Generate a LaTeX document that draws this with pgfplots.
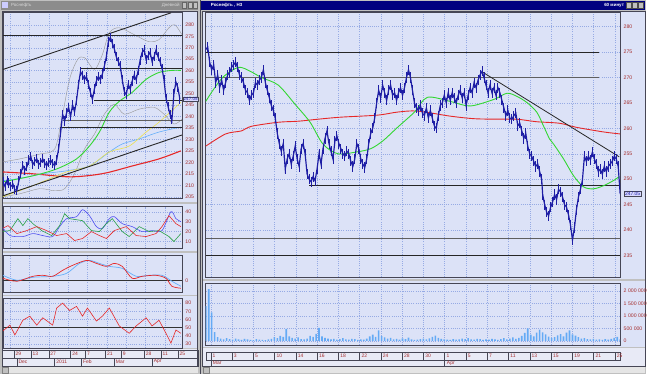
\documentclass[border=0pt]{standalone}
\usepackage{pgfplots}
\usepackage{pgfplotstable}
\pgfplotsset{compat=1.18}
\usepackage{fontspec}
\setmainfont{Liberation Sans}
\definecolor{wingray}{RGB}{192,192,192}
\definecolor{plotbg}{RGB}{220,226,247}
\definecolor{stripbg}{RGB}{232,234,246}
\definecolor{gridcol}{RGB}{150,170,228}
\definecolor{framecol}{RGB}{70,70,85}
\definecolor{labcol}{RGB}{165,45,45}
\definecolor{pricecol}{RGB}{30,30,165}
\definecolor{magreen}{RGB}{50,215,50}
\definecolor{mared}{RGB}{230,40,40}
\definecolor{mayellow}{RGB}{235,225,80}
\definecolor{malblue}{RGB}{100,175,250}
\definecolor{bandgray}{RGB}{150,150,150}
\definecolor{volcol}{RGB}{100,170,245}
\definecolor{navy}{RGB}{0,0,128}
\definecolor{inact}{RGB}{140,140,140}
\definecolor{levgray}{RGB}{95,95,95}
\definecolor{indblue}{RGB}{80,80,240}
\definecolor{indgreen}{RGB}{40,160,70}

\pgfplotsset{panel/.style={scale only axis, anchor=south west,
  axis background/.style={fill=plotbg},
  axis line style={draw=framecol, line width=0.6pt},
  xmajorgrids, ymajorgrids,
  grid style={draw=gridcol, line width=0.35pt, dash pattern=on 1pt off 1.2pt},
  xticklabels={}, yticklabel pos=right, tick style={draw=none},
  tick label style={font=\fontsize{5.2}{6}\selectfont, text=labcol},
  /pgf/number format/assume math mode=true, clip=true}}

% ---------- right panel: hourly price ----------
\pgfplotstableread{
x y
207 275.5
209 276.0
211 273.0
213 271.5
215 272.5
217 269.0
219 270.5
221 268.0
223 269.5
225 267.5
227 269.0
229 270.5
231 271.0
233 272.0
235 272.5
237 273.0
239 272.0
241 270.5
243 270.0
245 269.0
247 267.5
249 267.0
251 265.5
253 266.5
255 267.0
257 269.0
259 268.5
261 269.5
263 270.0
265 271.5
267 269.0
269 267.5
271 266.0
273 264.5
275 263.5
277 262.0
279 259.0
281 257.0
283 255.5
285 257.0
287 252.0
289 254.0
291 255.0
293 253.0
295 254.5
297 256.5
299 254.0
301 252.5
303 256.0
305 257.0
307 255.0
309 251.0
311 250.0
313 249.5
315 250.5
317 249.7
319 252.0
321 255.0
323 253.0
325 256.0
327 258.0
329 259.5
331 257.0
333 255.5
335 254.0
337 257.5
339 258.5
341 257.0
343 256.0
345 255.0
347 254.5
349 255.5
351 255.0
353 253.5
355 252.5
357 254.0
359 257.0
361 256.0
363 254.0
365 253.0
367 252.3
369 254.0
371 257.0
373 259.0
375 260.0
377 262.0
379 265.0
381 267.5
383 266.0
385 268.5
387 267.0
389 265.5
391 267.5
393 268.5
395 266.5
397 267.0
399 265.5
401 267.0
403 268.0
405 266.5
407 268.0
409 270.0
411 271.5
413 270.0
415 267.5
417 265.0
419 264.0
421 263.5
423 264.5
425 263.0
427 262.5
429 264.0
431 262.0
433 263.5
435 262.0
437 260.5
439 260.0
441 262.5
443 264.5
445 265.0
447 266.5
449 265.0
451 267.0
453 265.5
455 267.0
457 266.0
459 265.0
461 266.5
463 267.5
465 266.0
467 267.0
469 264.5
471 266.5
473 268.0
475 267.0
477 269.0
479 268.0
481 269.5
483 270.5
485 271.2
487 270.0
489 268.5
491 267.0
493 268.5
495 267.0
497 268.0
499 266.5
501 268.0
503 267.0
505 265.5
507 264.0
509 262.5
511 263.5
513 262.0
515 261.8
517 262.5
519 263.0
521 260.5
523 261.0
525 259.5
527 258.0
529 259.0
531 256.5
533 255.0
535 254.5
537 253.5
539 252.5
541 253.0
543 251.5
545 250.0
546 247.0
548 245.0
550 243.5
552 242.8
554 244.5
556 245.5
558 247.0
560 246.0
562 248.0
564 247.5
566 246.5
568 245.0
570 244.5
572 243.0
574 241.0
576 238.0
578 240.5
580 244.0
582 246.5
584 248.0
586 249.8
588 254.5
590 253.5
592 254.5
594 253.8
596 255.3
598 254.0
600 253.0
602 251.5
604 252.0
606 251.0
608 252.5
610 251.5
612 252.5
614 253.0
616 253.5
618 254.5
620 254.0
622 252.5
624 247.05
}\RP

\pgfplotstableread{
x v
207 1400
210 2080
213 1150
216 350
219 150
222 90
225 60
228 110
231 70
234 50
237 90
240 60
243 40
246 80
249 60
252 40
255 30
258 70
261 50
264 40
267 30
270 60
273 80
276 150
279 110
282 200
285 160
288 480
291 180
294 120
297 90
300 140
303 70
306 60
309 90
312 200
315 160
318 280
321 520
324 180
327 120
330 90
333 60
336 80
339 50
342 70
345 110
348 60
351 50
354 80
357 70
360 40
363 60
366 50
369 90
372 180
375 250
378 160
381 420
384 190
387 140
390 90
393 120
396 60
399 80
402 50
405 100
408 70
411 130
414 60
417 40
420 50
423 70
426 90
429 60
432 100
435 160
438 210
441 120
444 80
447 60
450 50
453 40
456 70
459 50
462 60
465 90
468 70
471 110
474 60
477 50
480 80
483 70
486 40
489 60
492 50
495 80
498 60
501 40
504 70
507 110
510 60
513 90
516 140
519 80
522 120
525 200
528 320
531 500
534 250
537 180
540 330
543 450
546 340
549 260
552 170
555 120
558 150
561 220
564 270
567 180
570 330
573 420
576 260
579 210
582 150
585 90
588 110
591 70
594 60
597 80
600 50
603 60
606 40
609 70
612 50
615 80
618 120
621 160
624 60
}\VOL

% ---------- left panel: daily price ----------
\pgfplotstableread{
x y
3 211.5
5 209.5
7 212.0
9 211.0
11 209.5
13 210.5
15 208.0
17 207.8
19 212.0
21 215.0
23 218.5
25 216.5
27 218.0
29 221.0
31 222.5
33 219.0
35 220.5
37 221.5
39 219.0
41 220.0
43 221.5
45 219.5
47 218.5
49 220.0
51 221.0
53 219.5
55 218.5
57 221.0
59 226.0
61 233.0
63 241.0
65 238.0
67 241.5
69 244.0
71 240.0
73 245.0
75 242.0
77 247.0
79 254.0
81 259.5
83 258.0
85 256.0
87 257.5
89 254.0
91 250.5
93 247.5
95 252.0
97 255.5
99 257.5
101 256.0
103 258.5
105 262.0
107 266.0
109 272.5
111 274.5
113 272.0
115 269.5
117 266.0
119 264.0
121 262.0
123 256.0
125 251.0
127 249.5
129 254.0
131 252.0
133 255.5
135 258.0
137 256.0
139 260.0
141 264.5
143 268.0
145 269.0
147 265.0
149 266.5
151 268.0
153 264.0
155 266.0
157 269.0
159 266.0
161 264.0
163 261.0
165 256.0
167 248.0
169 244.5
171 241.0
173 238.5
175 250.0
177 255.0
179 252.5
181 247.5
}\LP

\begin{document}
\begin{tikzpicture}
\begin{scope}[x=1pt,y=1pt]
\path[use as bounding box] (0,0) rectangle (650,376);
\fill[wingray] (0,0) rectangle (650,376);
% left window content blocks
\fill[plotbg] (2,173) rectangle (199,365);
\fill[plotbg] (2,123) rectangle (199,171);
\fill[plotbg] (2,79) rectangle (199,121);
\fill[plotbg] (2,26) rectangle (199,78);
\fill[stripbg] (2,7) rectangle (199,25);
% right window content blocks
\fill[plotbg] (204,95) rectangle (649,365);
\fill[plotbg] (204,27) rectangle (649,93);
\fill[stripbg] (204,7) rectangle (649,26);
\draw[framecol, line width=0.8pt] (201.5,0) -- (201.5,376);
\draw[framecol, line width=0.6pt] (204,7) rectangle (649,365);
\draw[framecol, line width=0.6pt] (2,7) rectangle (199,365);
% title bars
\fill[inact] (1,366) rectangle (199,375);
\fill[navy] (202,366) rectangle (649,375);
\node[anchor=west, inner sep=0, text=white!85!black, font=\fontsize{4.5}{5}\selectfont] at (11,370.5) {Роснефть};
\node[anchor=east, inner sep=0, text=white!85!black, font=\fontsize{4.5}{5}\selectfont] at (181,370.5) {Дневной};
\node[anchor=west, inner sep=0, text=white, font=\bfseries\fontsize{4.5}{5}\selectfont] at (212,370.5) {Роснефть , Н3};
\node[anchor=east, inner sep=0, text=white, font=\bfseries\fontsize{4.5}{5}\selectfont] at (628,370.5) {60 минут};
\foreach \bx in {183,189,194} {\fill[wingray] (\bx,367.5) rectangle (\bx+4.5,373.5); \draw[black!60, line width=0.3pt] (\bx,367.5) rectangle (\bx+4.5,373.5);}
\foreach \bx in {630,636,642} {\fill[wingray] (\bx,367.5) rectangle (\bx+5,373.5); \draw[black!70, line width=0.3pt] (\bx,367.5) rectangle (\bx+5,373.5);}
\fill[white!80!blue] (2.5,367.5) rectangle (8,373.5);
% scrollbars
\fill[white!90!black] (2,0.5) rectangle (199,6.5);
\fill[white!90!black] (204,0.5) rectangle (649,6.5);
\fill[wingray] (2,0.5) rectangle (8,6.5); \draw[black!50, line width=0.3pt] (2,0.5) rectangle (8,6.5);
\fill[wingray] (204,0.5) rectangle (210,6.5); \draw[black!50, line width=0.3pt] (204,0.5) rectangle (210,6.5);
\end{scope}

% ================= LEFT PRICE =================
\begin{axis}[panel, at={(3pt,176pt)}, width=180pt, height=188pt,
  xmin=3, xmax=183, ymin=204.1, ymax=285.6,
  ytick={205,210,...,280}, xtick={10,29.5,49,68.5,88,107.5,127,146.5,166}]
\addplot[bandgray, line width=0.4pt, smooth] coordinates {(3,220.2) (20,221.5) (40,223.6) (55,225.8) (62,238.8) (70,256.2) (78,264.8) (85,265.7) (95,260.5) (103,267) (110,276.5) (120,278.7) (135,275.7) (150,272.6) (160,273.5) (170,278.7) (176,280) (183,275.7)};
\addplot[bandgray, line width=0.4pt, smooth] coordinates {(3,205) (20,206.3) (40,208.5) (55,207.6) (65,208.5) (75,215) (85,225.8) (95,232.3) (105,241) (115,245.3) (125,241) (140,243.2) (155,244) (165,241) (175,236.7) (183,238.8)};
\addplot[mared, line width=1.1pt, smooth] coordinates {(3,215.8) (33,215) (67,213.7) (87,214.1) (107,215.4) (133,218.4) (160,221.5) (182,225)};
\addplot[malblue, line width=0.6pt, smooth] coordinates {(3,212) (20,213) (43,215) (67,216.3) (90,218.4) (110,224.5) (123,228) (140,230.2) (160,233.2) (182,235.4)};
\addplot[mayellow, line width=0.6pt, smooth] coordinates {(3,205) (33,209.8) (67,215.8) (90,218.4) (110,224.5) (130,227.1) (147,233.2) (160,237.5) (182,246.2)};
\addplot[magreen, line width=0.9pt, smooth] coordinates {(3,211.5) (33,214.1) (57,217.1) (77,221.5) (90,227.1) (100,233.2) (110,241.9) (120,246.6) (133,250.5) (147,256.2) (160,259.2) (173,260.1) (182,260.1)};
\addplot[black!85, line width=0.9pt] coordinates {(3,260.5) (172,285.2)};
\addplot[black!85, line width=0.9pt] coordinates {(3,205.4) (183,231.9)};
\addplot[black!85, line width=0.7pt] coordinates {(3,275.2) (183,275.2)};
\addplot[black!85, line width=0.7pt] coordinates {(82,261) (183,261)};
\addplot[black!85, line width=0.7pt] coordinates {(95,247) (183,247)};
\addplot[levgray, line width=0.7pt] coordinates {(63,238.4) (183,238.4)};
\addplot[black!85, line width=0.7pt] coordinates {(60,235.4) (183,235.4)};
\addplot[pricecol, line width=1.2pt, error bars/.cd, y dir=both, y fixed=2.0, error mark=none, error bar style={pricecol, line width=0.9pt}] table {\LP};
\end{axis}

% ================= LEFT IND 1 =================
\begin{axis}[panel, at={(3pt,126pt)}, width=180pt, height=42pt,
  xmin=3, xmax=183, ymin=3, ymax=45, ytick={10,20,30,40},
  xtick={10,29.5,49,68.5,88,107.5,127,146.5,166}]
\addplot[indblue, line width=0.6pt, smooth] coordinates {(2,25) (10,16) (23,15) (33,18) (43,16) (53,15) (60,25) (67,33) (77,35) (83,42) (90,36) (97,25) (103,23) (110,33) (115,35) (123,28) (133,25) (143,20) (153,21) (163,21) (172,40) (177,33) (182,30)};
\addplot[indgreen, line width=0.6pt] coordinates {(2,20) (10,21) (18,33) (23,26) (28,33) (33,28) (42,21) (52,16) (60,26) (65,38) (70,33) (83,31) (92,21) (100,20) (107,28) (113,33) (123,20) (130,15) (140,25) (150,20) (160,21) (170,15) (175,10) (182,18)};
\addplot[mared, line width=0.6pt] coordinates {(2,23) (8,26) (17,18) (27,21) (37,25) (47,21) (57,16) (67,18) (75,11) (83,13) (92,20) (100,16) (107,13) (115,21) (127,25) (137,16) (147,15) (157,18) (163,25) (170,36) (177,28) (182,25)};
\end{axis}

% ================= LEFT IND 2 =================
\begin{axis}[panel, at={(3pt,82pt)}, width=180pt, height=37pt,
  xmin=3, xmax=183, ymin=-12, ymax=25, ytick={0},
  xtick={10,29.5,49,68.5,88,107.5,127,146.5,166}]
\addplot[black!80, line width=0.6pt] coordinates {(3,0) (183,0)};
\addplot[malblue, line width=0.7pt, smooth] coordinates {(3,5) (17,0) (33,3) (53,4) (67,7) (80,17) (90,20) (100,17) (110,14) (123,12) (137,4) (150,5) (163,5) (173,-1) (182,-6)};
\addplot[mared, line width=0.7pt, smooth] coordinates {(3,2) (17,-1) (33,4) (43,5) (53,4) (63,10) (73,15) (87,20) (97,17) (107,14) (115,17) (123,14) (133,2) (143,4) (157,5) (167,2) (173,-6) (182,-8)};
\end{axis}

% ================= LEFT IND 3 =================
\begin{axis}[panel, at={(3pt,26pt)}, width=180pt, height=50pt,
  xmin=3, xmax=183, ymin=25.1, ymax=86.1, ytick={30,40,...,80},
  xtick={10,29.5,49,68.5,88,107.5,127,146.5,166}]
\addplot[black!80, line width=0.6pt] coordinates {(3,50) (183,50)};
\addplot[mared, line width=0.6pt] coordinates {(3,45.9) (10,53) (15,41) (23,59) (30,64) (37,53) (43,62) (53,53) (57,74) (63,80) (70,71) (77,76) (83,64) (88,74) (97,58) (103,64) (110,74) (120,52) (130,43) (137,52) (147,62) (153,52) (160,59) (167,43) (172,31) (177,47) (182,43)};
\end{axis}

% ================= RIGHT PRICE =================
\begin{axis}[panel, at={(207pt,97pt)}, width=417pt, height=267pt,
  xmin=207, xmax=624, ymin=230.7, ymax=282.9,
  ytick={235,240,...,280},
  xtick={212,233.4,254.8,276.2,297.6,319,340.4,361.8,383.2,404.6,426,447.4,468.8,490.2,511.6,533,554.4,575.8,597.2,618.6}]
\addplot[black!85, line width=0.7pt] coordinates {(207,275) (603,275)};
\addplot[levgray, line width=0.7pt] coordinates {(207,270) (603,270)};
\addplot[black!85, line width=0.7pt] coordinates {(311,248.7) (624,248.7)};
\addplot[levgray, line width=0.7pt] coordinates {(207,238.3) (624,238.3)};
\addplot[black!85, line width=0.7pt] coordinates {(207,235.1) (624,235.1)};
\addplot[mared, line width=0.9pt, smooth] coordinates {(207,256.5) (227,258.9) (243,259.5) (253,260.4) (280,261.2) (300,261.4) (320,261.8) (343,262.2) (380,262.6) (400,263.2) (420,263.4) (453,262.4) (477,261.9) (500,261.8) (520,261.8) (540,261.3) (563,261.0) (580,260.2) (607,259.3) (624,258.9)};
\addplot[magreen, line width=0.9pt, smooth] coordinates {(207,265.3) (215,267.7) (225,270.2) (240,272.0) (252,271.2) (263,270.0) (280,268.5) (297,264.7) (312,261.2) (325,256.9) (340,255.0) (360,255.4) (373,256.0) (385,257.5) (400,260.2) (417,263.2) (430,266.1) (453,265.3) (473,264.4) (497,265.7) (510,266.9) (520,266.3) (530,265.1) (540,263.2) (547,260.4) (553,257.9) (557,256.9) (567,254.0) (577,250.7) (587,248.5) (597,248.1) (607,248.7) (617,249.7) (623,250.5)};
\addplot[black!85, line width=0.8pt] coordinates {(486,271.0) (623,254.4)};
\addplot[pricecol, line width=1.2pt, error bars/.cd, y dir=both, y fixed=1.0, error mark=none, error bar style={pricecol, line width=0.9pt}] table {\RP};
\end{axis}

% ================= RIGHT VOLUME =================
\begin{axis}[panel, at={(207pt,29pt)}, width=417pt, height=62pt,
  xmin=207, xmax=624, ymin=-160, ymax=2320,
  ytick={0,500,1000,1500,2000},
  yticklabels={0,500 000,1 000 000,1 500 000,2 000 000},
  xtick={212,233.4,254.8,276.2,297.6,319,340.4,361.8,383.2,404.6,426,447.4,468.8,490.2,511.6,533,554.4,575.8,597.2,618.6}]
\addplot[ybar, bar width=1.6pt, fill=volcol, draw=none] table {\VOL};
\end{axis}

% ================= overlays: date strips, price boxes =================
\begin{scope}[x=1pt,y=1pt]
\tikzset{dl/.style={anchor=west, inner sep=0, text=labcol, font=\fontsize{5}{6}\selectfont}}
% left strip
\draw[framecol, line width=0.4pt] (2,16) rectangle (199,24);
\draw[framecol, line width=0.4pt] (2,8) rectangle (199,16);
\foreach \s/\t in {14/29,31/13,49/27,71/24,86/7,106/21,122/9,145/28,162/11,179/25} {
  \draw[framecol, line width=0.4pt] (\s,16) -- (\s,24);
  \node[dl] at (\s+1.5,20) {\t};}
\foreach \s/\t in {17/Dec,55/2011,82/Feb,115/Mar,153/Apr} {
  \draw[framecol, line width=0.4pt] (\s,8) -- (\s,16);
  \node[dl] at (\s+1.5,12) {\t};}
% right strip
\draw[framecol, line width=0.4pt] (207,14) rectangle (624,22);
\foreach \s/\t in {212/1,233.4/3,254.8/5,276.2/10,297.6/14,319/16,340.4/18,361.8/22,383.2/24,404.6/28,426/30,447.4/1,468.8/5,490.2/7,511.6/11,533/13,554.4/15,575.8/19,597.2/21,618.6/25} {
  \draw[framecol, line width=0.4pt] (\s,14) -- (\s,22);
  \node[dl] at (\s+1.8,18) {\t};}
\draw[framecol, line width=0.4pt] (212,7) -- (212,14);
\draw[framecol, line width=0.4pt] (447.4,7) -- (447.4,14);
\node[dl] at (214,10.5) {Mar};
\node[dl] at (449.5,10.5) {Apr};
% last price boxes
\node[draw=framecol, fill=white!85!blue, line width=0.4pt, inner sep=0.8pt, text=pricecol, font=\fontsize{5}{6}\selectfont] at (636.5,181) {247.05};
\node[draw=framecol, fill=white!85!blue, line width=0.4pt, inner sep=0.6pt, text=pricecol, font=\fontsize{4.6}{5}\selectfont, anchor=west] at (184,276) {247.05};
\end{scope}
\end{tikzpicture}
\end{document}
